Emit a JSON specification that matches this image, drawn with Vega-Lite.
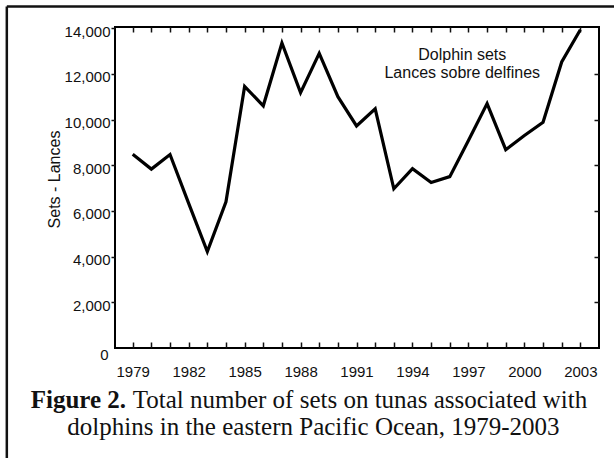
{
  "$schema": "https://vega.github.io/schema/vega-lite/v6.json",
  "width": 484,
  "height": 321,
  "autosize": {"type": "none"},
  "padding": {"left": 115, "top": 27, "right": 15, "bottom": 110},
  "background": "white",
  "config": {
    "view": {"stroke": "#000", "strokeWidth": 2},
    "font": "Liberation Sans",
    "axis": {
      "domain": false,
      "grid": false,
      "labelColor": "#111",
      "tickColor": "#111",
      "titleColor": "#111",
      "labelFont": "Liberation Sans",
      "titleFont": "Liberation Sans",
      "titleFontWeight": "normal"
    }
  },
  "resolve": {"axis": {"x": "independent", "y": "independent"}},
  "layer": [
    {
      "data": {
        "values": [
          {"year": 1979, "sets": 8480},
          {"year": 1980, "sets": 7830},
          {"year": 1981, "sets": 8470},
          {"year": 1982, "sets": 6330},
          {"year": 1983, "sets": 4220},
          {"year": 1984, "sets": 6400},
          {"year": 1985, "sets": 11450},
          {"year": 1986, "sets": 10600},
          {"year": 1987, "sets": 13350},
          {"year": 1988, "sets": 11180},
          {"year": 1989, "sets": 12900},
          {"year": 1990, "sets": 11000},
          {"year": 1991, "sets": 9720},
          {"year": 1992, "sets": 10470},
          {"year": 1993, "sets": 6970},
          {"year": 1994, "sets": 7850},
          {"year": 1995, "sets": 7240},
          {"year": 1996, "sets": 7500},
          {"year": 1997, "sets": 9080},
          {"year": 1998, "sets": 10700},
          {"year": 1999, "sets": 8680},
          {"year": 2000, "sets": 9300},
          {"year": 2001, "sets": 9880},
          {"year": 2002, "sets": 12520},
          {"year": 2003, "sets": 13930}
        ]
      },
      "mark": {"type": "line", "color": "#000", "strokeWidth": 3.2, "clip": false},
      "encoding": {
        "x": {
          "field": "year", "type": "quantitative",
          "scale": {"domain": [1978.05, 2004], "nice": false, "zero": false},
          "axis": {
            "orient": "bottom",
            "values": [1979, 1982, 1985, 1988, 1991, 1994, 1997, 2000, 2003],
            "format": "d", "ticks": false, "labelFontSize": 15,
            "labelPadding": 16, "labelBaseline": "top", "title": null
          }
        },
        "y": {
          "field": "sets", "type": "quantitative",
          "scale": {"domain": [0, 14050], "nice": false, "zero": true},
          "axis": {
            "orient": "left",
            "values": [0, 2000, 4000, 6000, 8000, 10000, 12000, 14000],
            "format": ",d",
            "tickSize": 4, "tickWidth": 1.5,
            "tickColor": {"condition": {"test": "datum.value == 0", "value": "transparent"}, "value": "#111"},
            "labelFontSize": 15,
            "labelPadding": {"condition": {"test": "datum.value == 0", "value": 3}, "value": 1},
            "labelOffset": {"condition": {"test": "datum.value == 0", "value": 6}, "value": 3},
            "title": "Sets - Lances", "titleFontSize": 16, "titlePadding": 2, "titleY": 152
          }
        }
      }
    },
    {
      "data": {"values": [{}]},
      "mark": {"type": "text", "font": "Liberation Sans", "fontSize": 16, "align": "center", "baseline": "middle", "lineHeight": 18, "color": "#111"},
      "encoding": {
        "x": {
          "datum": 1996.67, "type": "quantitative",
          "scale": {"domain": [1978.05, 2004], "nice": false, "zero": false},
          "axis": {
            "orient": "top",
            "values": [1979,1980,1981,1982,1983,1984,1985,1986,1987,1988,1989,1990,1991,1992,1993,1994,1995,1996,1997,1998,1999,2000,2001,2002,2003],
            "labels": false, "tickSize": -5, "tickWidth": 1.5, "title": null
          }
        },
        "y": {
          "datum": 12830, "type": "quantitative",
          "scale": {"domain": [0, 14050], "nice": false, "zero": true},
          "axis": {
            "orient": "right",
            "values": [2000, 4000, 6000, 8000, 10000, 12000],
            "labels": false, "tickSize": -5, "tickWidth": 1.5, "title": null
          }
        },
        "text": {"value": ["Dolphin sets", "Lances sobre delfines"]}
      }
    },
    {
      "data": {"values": [{}]},
      "mark": {"type": "text", "font": "Liberation Serif", "fontSize": 25, "fontWeight": "bold", "align": "left", "baseline": "alphabetic", "color": "#111"},
      "encoding": {
        "x": {
          "datum": 1973.53, "type": "quantitative",
          "scale": {"domain": [1978.05, 2004], "nice": false, "zero": false},
          "axis": {
            "orient": "bottom",
            "values": [1979,1980,1981,1982,1983,1984,1985,1986,1987,1988,1989,1990,1991,1992,1993,1994,1995,1996,1997,1998,1999,2000,2001,2002,2003],
            "labels": false, "tickSize": -6, "tickWidth": 1.5, "title": null
          }
        },
        "y": {
          "datum": -2620, "type": "quantitative",
          "scale": {"domain": [0, 14050], "nice": false, "zero": true},
          "axis": null
        },
        "text": {"value": "Figure 2."}
      }
    },
    {
      "data": {"values": [{}]},
      "mark": {"type": "text", "font": "Liberation Serif", "fontSize": 25, "align": "left", "baseline": "alphabetic", "color": "#111"},
      "encoding": {
        "x": {"datum": 1979.0, "type": "quantitative", "scale": {"domain": [1978.05, 2004], "nice": false, "zero": false}, "axis": null},
        "y": {"datum": -2620, "type": "quantitative", "scale": {"domain": [0, 14050], "nice": false, "zero": true}, "axis": null},
        "text": {"value": "Total number of sets on tunas associated with"}
      }
    },
    {
      "data": {"values": [{}]},
      "mark": {"type": "text", "font": "Liberation Serif", "fontSize": 25, "align": "center", "baseline": "alphabetic", "color": "#111"},
      "encoding": {
        "x": {"datum": 1988.69, "type": "quantitative", "scale": {"domain": [1978.05, 2004], "nice": false, "zero": false}, "axis": null},
        "y": {"datum": -3793, "type": "quantitative", "scale": {"domain": [0, 14050], "nice": false, "zero": true}, "axis": null},
        "text": {"value": "dolphins in the eastern Pacific Ocean, 1979-2003"}
      }
    },
    {
      "data": {"values": [{}]},
      "mark": {"type": "rule", "color": "#111", "strokeWidth": 2.5},
      "encoding": {
        "x": {"datum": 1972.25, "type": "quantitative", "scale": {"domain": [1978.05, 2004], "nice": false, "zero": false}, "axis": null},
        "y": {"datum": -8000, "type": "quantitative", "scale": {"domain": [0, 14050], "nice": false, "zero": true}, "axis": null},
        "y2": {"datum": 14943}
      }
    },
    {
      "data": {"values": [{}]},
      "mark": {"type": "rule", "color": "#111", "strokeWidth": 2.5},
      "encoding": {
        "x": {"datum": 1972.25, "type": "quantitative", "scale": {"domain": [1978.05, 2004], "nice": false, "zero": false}, "axis": null},
        "x2": {"datum": 2012},
        "y": {"datum": 14943, "type": "quantitative", "scale": {"domain": [0, 14050], "nice": false, "zero": true}, "axis": null}
      }
    }
  ]
}
